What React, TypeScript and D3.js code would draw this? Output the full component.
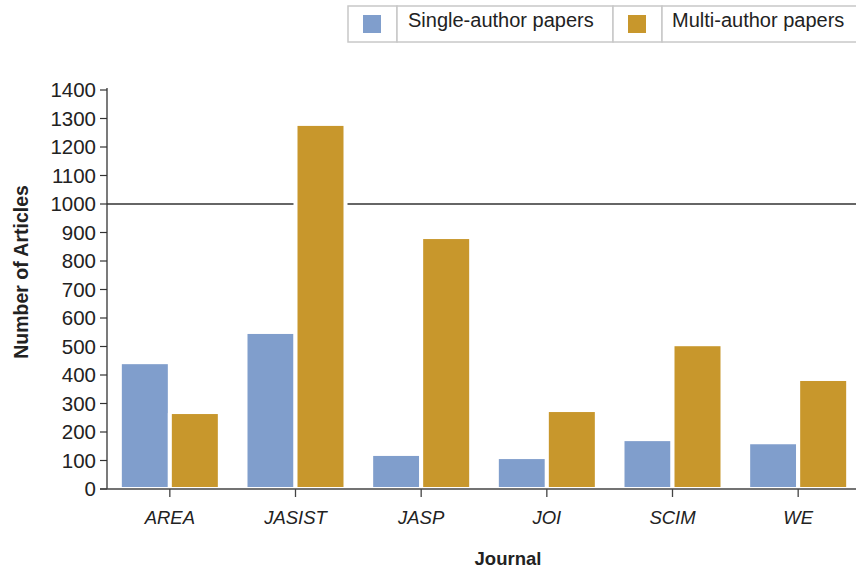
import { useEffect, useRef } from "react";
import * as d3 from "d3";

const journals = ["AREA", "JASIST", "JASP", "JOI", "SCIM", "WE"];
const singleAuthor = [438, 544, 116, 105, 168, 157];
const multiAuthor = [263, 1274, 877, 270, 501, 379];
const seriesNames = ["Single-author papers", "Multi-author papers"];
const seriesColors = ["#809ecc", "#c8972c"];
const yTicks = [0, 100, 200, 300, 400, 500, 600, 700, 800, 900, 1000, 1100, 1200, 1300, 1400];

export default function App() {
  const svgRef = useRef<SVGSVGElement>(null);

  useEffect(() => {
    if (!svgRef.current) return;
    const svg = d3.select(svgRef.current);
    const width = 856;
    const height = 569;
    const font = "'Liberation Sans', Arial, sans-serif";

    svg.selectAll("*").remove();
    svg.attr("width", width).attr("height", height);

    const left = 107;
    const baseY = 489;

    const x = d3.scaleBand().domain(journals).range([left, left + 754]).paddingInner(0).paddingOuter(0);
    const y = d3.scaleLinear().domain([0, 1400]).range([baseY, 90]);

    // reference line at 1000
    svg
      .append("line")
      .attr("x1", left)
      .attr("x2", width)
      .attr("y1", y(1000))
      .attr("y2", y(1000))
      .attr("stroke", "#333")
      .attr("stroke-width", 1.3);

    // bars
    const barW = 46;
    const gap = 4;
    const bars = svg.append("g");
    journals.forEach((j, i) => {
      const cx = x(j)! + x.bandwidth() / 2;
      const vals = [singleAuthor[i], multiAuthor[i]];
      vals.forEach((v, k) => {
        const bx = k === 0 ? cx - gap / 2 - barW : cx + gap / 2;
        // white halo behind bar
        bars
          .append("rect")
          .attr("x", bx - 4)
          .attr("y", y(v) - 1)
          .attr("width", barW + 8)
          .attr("height", baseY - y(v) - 1)
          .attr("fill", "white");
        bars
          .append("rect")
          .attr("x", bx)
          .attr("y", y(v))
          .attr("width", barW)
          .attr("height", baseY - y(v) - 2)
          .attr("fill", seriesColors[k]);
      });
    });

    // y axis
    svg
      .append("line")
      .attr("x1", left)
      .attr("x2", left)
      .attr("y1", 88)
      .attr("y2", baseY)
      .attr("stroke", "#333")
      .attr("stroke-width", 1.3);
    yTicks.forEach((t) => {
      svg
        .append("line")
        .attr("x1", left - 7)
        .attr("x2", left)
        .attr("y1", y(t))
        .attr("y2", y(t))
        .attr("stroke", "#333")
        .attr("stroke-width", 1.2);
      svg
        .append("text")
        .attr("x", left - 11)
        .attr("y", y(t))
        .attr("dy", "0.36em")
        .attr("text-anchor", "end")
        .attr("font-family", font)
        .attr("font-size", "20.5px")
        .attr("fill", "#222")
        .text(t);
    });

    // x axis
    svg
      .append("line")
      .attr("x1", left - 7)
      .attr("x2", width)
      .attr("y1", baseY)
      .attr("y2", baseY)
      .attr("stroke", "#444")
      .attr("stroke-width", 1.5);
    journals.forEach((j) => {
      const cx = x(j)! + x.bandwidth() / 2;
      svg
        .append("line")
        .attr("x1", cx)
        .attr("x2", cx)
        .attr("y1", baseY)
        .attr("y2", baseY + 8)
        .attr("stroke", "#444")
        .attr("stroke-width", 1.3);
      svg
        .append("text")
        .attr("x", cx)
        .attr("y", 524)
        .attr("text-anchor", "middle")
        .attr("font-family", font)
        .attr("font-style", "italic")
        .attr("font-size", "18.5px")
        .attr("fill", "#222")
        .text(j);
    });

    // axis titles
    svg
      .append("text")
      .attr("x", 508)
      .attr("y", 565)
      .attr("text-anchor", "middle")
      .attr("font-family", font)
      .attr("font-weight", "bold")
      .attr("font-size", "18.5px")
      .attr("fill", "#222")
      .text("Journal");
    svg
      .append("text")
      .attr("transform", `translate(28, ${272}) rotate(-90)`)
      .attr("text-anchor", "middle")
      .attr("font-family", font)
      .attr("font-weight", "bold")
      .attr("font-size", "19.5px")
      .attr("fill", "#222")
      .text("Number of Articles");

    // legend
    const lg = svg.append("g");
    const cells = [
      [348, 397],
      [397, 613],
      [613, 662],
      [662, 858],
    ];
    cells.forEach(([a, b]) => {
      lg.append("rect")
        .attr("x", a)
        .attr("y", 6)
        .attr("width", b - a)
        .attr("height", 36)
        .attr("fill", "white")
        .attr("stroke", "#c8c8c8")
        .attr("stroke-width", 1.5);
    });
    seriesNames.forEach((name, k) => {
      const sx = k === 0 ? 363 : 628;
      lg.append("rect")
        .attr("x", sx)
        .attr("y", 15)
        .attr("width", 18)
        .attr("height", 18)
        .attr("fill", seriesColors[k]);
      lg.append("text")
        .attr("x", k === 0 ? 408 : 672)
        .attr("y", 27)
        .attr("font-family", font)
        .attr("font-size", "20px")
        .attr("fill", "#222")
        .text(name);
    });
  }, []);

  return (
    <div style={{ position: "absolute", left: 0, top: 0 }}>
      <svg ref={svgRef}></svg>
    </div>
  );
}
